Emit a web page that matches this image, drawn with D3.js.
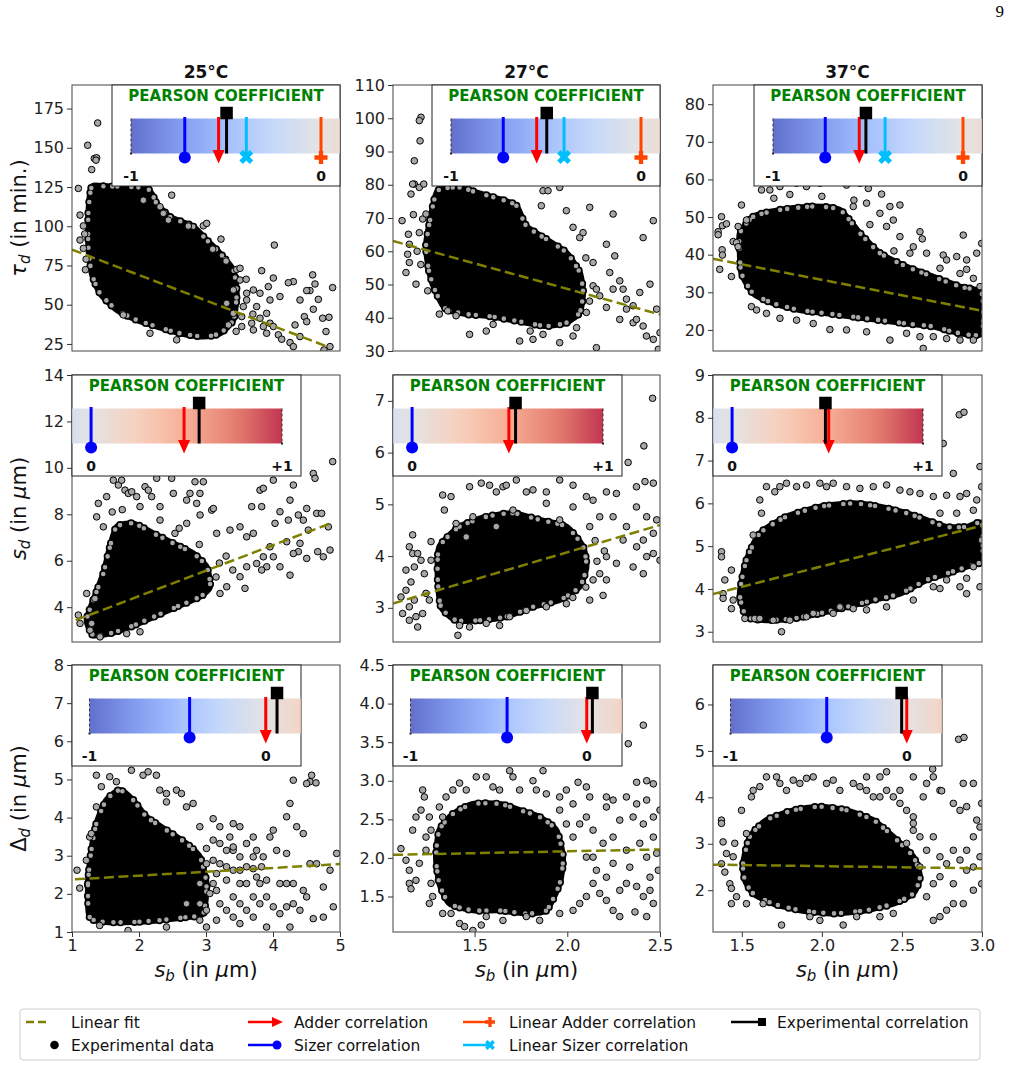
<!DOCTYPE html>
<html>
<head>
<meta charset="utf-8">
<script src="https://cdn.jsdelivr.net/npm/d3@7"></script>
<style>
body { margin: 0; background: #fff; }
text { font-family: "DejaVu Sans", sans-serif; }
</style>
</head>
<body>
<svg id="chart" width="1014" height="1067"></svg>
<script>
// ---- data ----
const temps = ['25°C', '27°C', '37°C'];

const xDomains = [[1, 5], [1.06, 2.5], [1.32, 3.0]];
const xTicks = [[1, 2, 3, 4, 5], [1.5, 2.0, 2.5], [1.5, 2.0, 2.5, 3.0]];

const yDomains = [
	[[20.5, 190], [30, 110], [14.4, 85.1]],
	[[2.5, 14], [2.34, 7.5], [2.76, 9]],
	[[1, 8], [1.04, 4.5], [1.1, 6.85]]
];
const yTicks = [
	[[25, 50, 75, 100, 125, 150, 175], [30, 40, 50, 60, 70, 80, 90, 100, 110], [20, 30, 40, 50, 60, 70, 80]],
	[[4, 6, 8, 10, 12, 14], [3, 4, 5, 6, 7], [3, 4, 5, 6, 7, 8, 9]],
	[[1, 2, 3, 4, 5, 6, 7, 8], [1.5, 2.0, 2.5, 3.0, 3.5, 4.0, 4.5], [2, 3, 4, 5, 6]]
];

// linear fits [x0, y0, x1, y1]
const fit_tau = [[1.0, 85.1, 4.83, 23], [1.06, 63.1, 2.5, 41], [1.32, 38.9, 3.0, 25.1]];
const fit_sd = [[1.055, 3.44, 4.83, 7.58], [1.06, 3.085, 2.5, 4.6], [1.32, 3.88, 3.0, 5.48]];
const fit_dd = [[1.045, 2.38, 5.0, 2.78], [1.06, 2.04, 2.5, 2.11], [1.32, 2.55, 3.0, 2.47]];

// pearson coefficients
const r_sizer = [[-0.717, -0.725, -0.725], [0, 0, 0], [-0.432, -0.452, -0.454]];
const r_adder = [[-0.539, -0.549, -0.546], [0.487, 0.507, 0.506], [0, 0, 0]];
const r_exp = [[-0.497, -0.496, -0.511], [0.566, 0.542, 0.489], [0.064, 0.032, -0.029]];
const r_lin_sizer = [-0.393, -0.405, -0.41];
const r_lin_adder = [0, 0, 0];

// dense cores (outline of the solid black mass) and scattered points
const tau25_core = [[1.294,125.1],[1.468,125.5],[2.115,124.1],[2.264,114.5],[2.463,106.0],[2.811,99.7],[3.01,91.2],[3.209,82.7],[3.408,72.1],[3.458,57.3],[3.408,40.3],[3.209,31.8],[2.96,29.7],[2.612,31.8],[2.264,36.1],[1.965,40.3],[1.667,46.7],[1.418,57.3],[1.294,70.0],[1.244,87.0],[1.244,108.2]];
const tau25_pts = [[1.383,165.8],[1.234,151.6],[1.333,143.2],[1.368,143.6],[1.294,136.1],[1.358,142.1],[1.095,124.1],[1.12,107.1],[1.12,91.2],[1.17,85.9],[2.488,119.8],[2.96,100.3],[3.01,101.8],[2.736,100.1],[3.224,91.8],[4.02,88.0],[4.005,67.0],[3.831,71.7],[3.458,72.5],[3.508,73.2],[4.304,64.7],[4.229,64.0],[4.592,69.0],[4.627,63.2],[4.89,60.9],[4.552,59.0],[4.503,59.0],[4.403,53.0],[4.104,55.2],[3.955,53.0],[4.677,53.4],[4.602,47.1],[4.468,42.4],[4.503,39.2],[4.329,37.1],[4.741,41.4],[4.836,42.0],[4.791,32.9],[4.254,25.9],[4.304,23.3],[4.851,23.3],[4.761,21.2],[4.08,30.8],[4.13,28.0],[4.403,29.7],[3.806,41.4],[3.682,38.2],[3.856,36.1],[3.955,38.2],[3.533,42.4],[3.408,44.5],[3.309,50.9],[3.707,59.4],[3.607,57.3],[3.408,59.4],[2.562,27.6],[2.164,31.8],[1.766,43.5],[2.314,112.4],[2.363,108.2],[2.065,116.6],[2.438,103.9],[3.508,65.7],[3.607,53.0],[3.756,48.8],[3.905,44.5],[3.707,33.9],[3.905,31.8],[4.005,36.1],[3.533,36.1],[3.806,57.3],[3.93,61.5],[3.557,48.8],[3.334,37.1],[1.17,100.2],[1.19,95.1],[1.21,79.0],[1.2,72.3],[3.1,85.4],[3.3,77.8],[3.6,66.2],[3.7,44.0],[3.45,33.0]];

const tau27_core = [[1.301,78.2],[1.419,79.2],[1.509,77.7],[1.635,75.7],[1.725,73.7],[1.779,67.6],[1.887,63.6],[1.995,59.6],[2.067,53.6],[2.085,47.6],[2.067,41.6],[1.995,38.5],[1.887,37.5],[1.779,38.5],[1.671,39.6],[1.563,40.6],[1.455,41.1],[1.346,42.6],[1.292,47.6],[1.256,53.6],[1.238,61.6],[1.265,70.7]];
const tau27_pts = [[1.211,100.3],[1.202,99.3],[1.206,93.2],[1.175,87.2],[1.175,80.2],[1.166,80.2],[1.202,79.2],[1.226,80.2],[1.157,77.2],[1.109,69.2],[1.143,65.1],[1.148,62.1],[1.139,59.1],[1.148,56.6],[1.184,50.1],[1.247,48.1],[1.130,53.6],[1.202,65.6],[1.220,69.7],[1.238,71.2],[1.310,41.1],[1.355,42.1],[1.4,40.6],[1.473,35.0],[1.563,36.0],[1.743,33.0],[1.815,33.5],[1.869,35.0],[1.959,32.5],[2.031,34.5],[1.869,78.2],[1.896,78.2],[1.959,79.2],[1.86,73.7],[1.995,72.2],[2.031,67.2],[2.067,64.1],[2.085,65.6],[2.121,73.2],[2.211,62.1],[2.256,58.6],[2.229,53.6],[2.301,48.6],[2.139,56.6],[2.175,46.6],[2.211,43.1],[2.247,48.6],[2.319,42.6],[2.355,38.5],[2.373,39.5],[2.409,37.5],[2.427,34.5],[2.464,33.5],[2.5,35.5],[2.391,47.6],[2.283,51.1],[2.446,50.1],[2.464,69.2],[2.247,71.2],[2.409,64.1],[2.157,31.0],[2.103,41.6],[2.139,49.6],[2.157,48.6],[2.319,45.6],[2.355,43.6],[2.283,39.5],[2.482,42.6],[2.491,30.5],[1.17,71.0],[1.19,60.0],[1.21,56.0],[2.1,58.0],[2.12,45.0],[2.05,37.0],[1.8,36.0],[1.6,38.0]];

const tau37_core = [[1.4875,45.7],[1.571,50.1],[1.738,51.9],[1.946,52.8],[2.1125,51.9],[2.2375,45.7],[2.3625,40.4],[2.529,36.8],[2.696,34.1],[2.8625,31.5],[2.998,29.7],[2.998,19.1],[2.8625,19.1],[2.696,20.9],[2.529,21.7],[2.3625,22.6],[2.196,23.5],[2.029,24.4],[1.8625,25.3],[1.696,27.1],[1.571,29.7],[1.498,35.0],[1.4875,40.4]];
const tau37_pts = [[1.373,50.1],[1.379,47.7],[1.352,46.1],[1.352,45.3],[1.377,41.3],[1.379,39.9],[1.404,48.2],[1.446,43.5],[1.467,43.2],[1.477,42.1],[1.362,36.1],[1.435,34.2],[1.498,53.2],[1.529,49.2],[1.477,47.5],[1.56,26.2],[1.592,25.3],[1.623,57.2],[1.675,57.2],[1.738,58.1],[1.842,59.0],[1.904,58.1],[1.9875,59.0],[2.071,59.4],[2.154,58.5],[2.2375,59.0],[2.29,57.6],[2.373,56.1],[2.196,52.8],[2.279,53.7],[2.3625,51.0],[2.425,52.8],[2.4875,53.2],[2.446,49.2],[2.404,47.5],[2.4875,44.8],[2.571,42.1],[2.6125,46.1],[2.627,44.2],[2.55,40.4],[2.654,40.4],[2.7375,36.4],[2.758,39.9],[2.779,38.6],[2.842,39.5],[2.8625,35.0],[2.904,38.6],[2.967,40.4],[2.998,43.0],[2.883,45.2],[2.946,33.7],[2.9875,31.5],[2.904,36.1],[2.633,15.1],[2.425,17.3],[2.529,19.1],[2.696,18.2],[2.779,17.7],[2.8625,17.3],[2.946,17.3],[2.6125,18.2],[2.05,20.1],[2.154,20.0],[2.279,19.5],[1.946,21.7],[1.842,22.6],[1.654,24.4],[1.738,23.1],[1.7,55.0],[1.8,56.0],[2.0,55.5],[2.2,54.5],[2.3,48.0],[2.45,41.0]];

const sd25_core = [[1.219,3.44],[1.318,4.30],[1.468,5.45],[1.567,6.60],[1.667,7.46],[1.915,7.61],[2.214,7.18],[2.513,6.75],[2.811,6.31],[3.01,5.74],[3.06,4.88],[2.911,4.45],[2.562,4.02],[2.214,3.58],[1.866,3.15],[1.567,2.87],[1.318,2.79]];
const sd25_pts = [[1.219,4.59],[1.343,4.37],[1.294,3.30],[1.095,3.66],[1.12,3.30],[1.393,8.47],[1.468,7.46],[1.517,8.76],[1.617,9.47],[1.692,9.26],[1.741,9.47],[1.791,9.04],[1.841,8.90],[1.891,8.97],[1.965,8.76],[2.09,9.19],[2.139,9.04],[2.264,9.55],[2.189,8.76],[2.314,8.33],[2.513,8.90],[2.488,9.55],[2.711,8.61],[2.761,8.90],[2.861,8.47],[2.910,8.90],[2.836,9.40],[2.96,9.40],[3.085,8.18],[3.11,8.25],[2.911,7.97],[2.712,7.61],[2.537,7.18],[3.159,7.18],[3.358,7.32],[3.508,7.46],[3.607,7.03],[3.707,7.18],[3.682,8.33],[3.831,8.33],[3.806,9.04],[3.856,9.12],[4.005,9.47],[4.03,7.61],[4.104,8.11],[4.229,7.75],[4.254,8.61],[4.304,9.26],[4.378,7.97],[4.453,7.75],[4.503,8.25],[4.602,9.76],[4.627,9.55],[4.652,8.04],[4.726,8.04],[4.826,7.46],[4.891,10.27],[4.851,6.46],[4.667,6.39],[4.751,6.17],[4.503,6.10],[4.378,6.39],[4.254,5.38],[4.005,6.17],[3.906,5.74],[3.856,6.17],[3.607,5.74],[3.508,5.31],[3.309,4.88],[3.209,4.59],[3.582,4.81],[3.756,5.88],[4.104,5.74],[4.304,6.31],[4.403,6.75],[4.204,6.82],[4.527,7.32],[3.831,5.60],[3.955,6.60],[1.368,7.89],[2.015,8.33],[2.314,7.75],[1.816,2.86],[2.015,2.94],[1.418,2.72],[1.269,3.01],[3.2,5.9],[3.3,6.2],[3.4,5.6],[3.15,5.3],[2.9,6.7],[2.6,7.4],[1.6,8.1],[1.75,8.2]];

const sd27_core = [[1.310,4.18],[1.419,4.57],[1.563,4.76],[1.707,4.83],[1.851,4.70],[1.995,4.57],[2.085,4.18],[2.103,3.79],[2.067,3.41],[1.959,3.15],[1.815,3.02],[1.671,2.83],[1.527,2.76],[1.400,2.76],[1.319,3.02],[1.301,3.60]];
const sd27_pts = [[1.103,3.21],[1.130,3.34],[1.148,3.02],[1.175,3.15],[1.157,3.50],[1.175,3.79],[1.130,3.73],[1.166,4.05],[1.193,4.05],[1.211,3.92],[1.166,4.41],[1.148,4.18],[1.229,3.66],[1.238,3.28],[1.256,3.15],[1.265,3.92],[1.265,4.28],[1.112,2.89],[1.148,2.76],[1.184,2.83],[1.220,2.89],[1.193,2.63],[1.328,5.18],[1.373,5.15],[1.337,4.89],[1.473,5.34],[1.536,5.41],[1.581,5.37],[1.617,5.24],[1.653,5.34],[1.671,5.37],[1.725,5.47],[1.779,5.24],[1.815,5.28],[1.887,5.24],[1.959,5.47],[2.031,5.37],[2.103,5.15],[2.139,5.08],[2.211,5.24],[2.265,5.21],[2.373,5.34],[2.419,5.44],[2.464,5.41],[2.460,7.05],[2.413,6.13],[2.328,5.81],[1.617,4.57],[1.455,4.37],[1.400,4.63],[1.491,4.76],[1.707,4.89],[1.887,5.02],[2.031,4.95],[1.959,4.70],[2.121,4.57],[2.175,4.76],[2.247,4.76],[2.319,4.57],[2.373,4.95],[2.428,4.76],[2.482,4.70],[2.464,4.44],[2.410,4.31],[2.464,4.05],[2.5,3.92],[2.428,3.99],[2.374,4.18],[2.301,4.31],[2.355,3.79],[2.410,3.66],[2.265,3.86],[2.211,3.99],[2.175,3.66],[2.139,3.54],[2.211,3.54],[2.121,3.15],[2.193,3.24],[1.419,2.66],[1.473,2.63],[1.563,2.70],[1.635,2.66],[1.689,2.83],[1.779,2.95],[1.887,3.02],[1.995,3.08],[1.410,2.47],[2.15,4.3],[2.2,4.1],[2.16,3.9],[2.1,3.4],[2.03,3.2]];

const sd37_core = [[1.4875,3.89],[1.529,4.67],[1.6125,5.30],[1.779,5.69],[1.9875,5.92],[2.196,6.00],[2.3625,5.92],[2.529,5.77],[2.654,5.61],[2.779,5.45],[2.904,5.45],[2.998,5.53],[2.998,4.67],[2.904,4.52],[2.779,4.36],[2.654,4.21],[2.4875,3.89],[2.321,3.74],[2.154,3.58],[1.9875,3.43],[1.821,3.31],[1.654,3.27],[1.529,3.35]];
const sd37_pts = [[1.373,4.87],[1.373,4.75],[1.394,4.21],[1.435,4.44],[1.383,3.89],[1.383,3.78],[1.435,3.54],[1.446,3.74],[1.519,3.31],[1.581,3.31],[1.6125,3.31],[1.748,3.00],[1.696,3.27],[1.571,5.26],[1.623,5.77],[1.6125,6.08],[1.654,6.39],[1.706,6.27],[1.7375,6.39],[1.779,6.47],[1.842,6.39],[1.904,6.43],[1.9875,6.47],[2.029,6.39],[2.071,6.47],[2.154,6.39],[2.2375,6.35],[2.321,6.39],[2.404,6.43],[2.4875,6.31],[2.55,6.27],[2.6125,6.23],[2.696,6.16],[2.779,6.19],[2.8625,6.16],[2.904,6.23],[2.967,6.08],[2.998,6.39],[2.9875,6.86],[2.858,8.07],[2.8875,8.13],[2.758,7.40],[2.654,7.13],[2.581,7.01],[2.821,6.70],[2.685,6.74],[2.7375,5.77],[2.842,5.77],[2.946,5.84],[2.998,5.14],[2.946,4.52],[2.904,4.25],[2.8625,4.05],[2.7375,4.01],[2.779,4.21],[2.904,3.89],[2.9875,4.05],[2.696,4.05],[2.571,3.74],[2.404,3.58],[2.279,3.51],[2.196,3.54],[2.071,3.43],[1.904,3.35],[1.8,3.27],[1.946,3.43],[2.1125,3.58]];

const dd25_core = [[1.264,1.39],[1.239,2.27],[1.289,3.14],[1.364,3.84],[1.513,4.46],[1.712,4.72],[1.912,4.46],[2.111,4.02],[2.41,3.67],[2.709,3.32],[2.908,2.97],[3.007,2.27],[2.958,1.48],[2.709,1.39],[2.31,1.31],[1.912,1.26],[1.513,1.26]];
const dd25_pts = [[1.075,2.62],[1.115,2.15],[1.214,2.88],[1.264,3.49],[1.289,3.58],[1.364,4.28],[1.438,4.81],[1.364,5.11],[1.563,5.07],[1.663,4.94],[1.887,5.24],[2.061,5.11],[2.136,5.20],[2.26,5.11],[2.31,4.72],[2.41,4.63],[2.41,4.41],[2.559,4.72],[2.634,4.63],[2.709,4.28],[2.808,4.37],[2.908,3.76],[3.107,3.97],[3.207,3.76],[3.406,3.84],[3.506,3.76],[3.356,3.49],[3.107,3.41],[3.007,3.19],[3.207,3.32],[3.406,3.14],[3.605,3.32],[3.705,3.49],[3.755,3.14],[3.854,2.97],[3.954,3.49],[4.004,3.67],[4.054,3.14],[4.203,3.06],[4.103,2.27],[4.203,2.27],[4.303,2.27],[4.303,4.98],[4.577,5.11],[4.552,4.94],[4.641,4.91],[4.502,4.89],[4.253,4.37],[4.203,4.02],[4.353,3.76],[4.452,3.58],[4.552,2.79],[4.651,2.79],[4.751,2.18],[4.851,2.62],[4.95,3.06],[4.9,1.66],[4.751,1.39],[4.601,1.35],[4.402,1.57],[4.502,1.92],[4.303,1.74],[4.203,1.66],[4.103,1.48],[4.004,1.66],[3.904,1.13],[4.253,1.13],[4.452,2.09],[3.755,2.44],[3.506,2.27],[3.306,2.36],[3.157,2.53],[3.057,2.01],[2.908,1.31],[3.007,1.13],[3.506,1.22],[3.605,1.57],[3.804,2.27],[3.705,1.92],[3.904,2.36],[3.829,2.71],[3.705,2.66],[3.605,2.71],[3.406,2.62],[3.306,2.71],[3.207,2.79],[2.41,1.13],[3.406,3.23],[3.157,2.09],[1.837,1.04],[1.413,1.17],[3.107,2.88],[2.908,2.27],[2.709,1.74],[3.007,2.79],[3.107,2.27],[3.207,1.74],[3.306,1.57],[3.406,1.39],[3.007,1.57],[3.157,1.31],[2.908,1.74],[3.506,1.74],[3.406,1.92],[3.605,2.27],[3.705,2.97],[3.506,2.97],[3.306,3.14],[3.506,2.62],[3.705,1.39],[3.804,1.74],[3.904,1.92]];

const dd27_core = [[1.310,2.36],[1.383,2.57],[1.491,2.70],[1.635,2.70],[1.743,2.62],[1.851,2.53],[1.941,2.36],[1.977,2.01],[1.959,1.67],[1.887,1.32],[1.779,1.28],[1.635,1.32],[1.491,1.32],[1.364,1.41],[1.310,1.67],[1.292,2.01]];
const dd27_pts = [[1.103,2.12],[1.130,1.97],[1.148,1.84],[1.148,1.67],[1.157,1.60],[1.184,1.71],[1.202,1.93],[1.238,2.10],[1.238,2.27],[1.166,2.36],[1.184,2.53],[1.211,2.62],[1.229,2.79],[1.220,2.88],[1.256,2.53],[1.265,2.36],[1.265,1.67],[1.274,1.50],[1.256,1.41],[1.328,1.28],[1.373,1.28],[1.419,1.15],[1.446,1.11],[1.491,1.06],[1.536,1.13],[1.563,1.24],[1.653,1.19],[1.779,1.24],[1.851,1.19],[1.959,1.28],[2.031,1.32],[2.067,1.41],[2.103,1.50],[2.139,1.67],[2.175,1.54],[2.211,1.45],[2.247,1.32],[2.283,1.58],[2.319,1.67],[2.374,1.63],[2.410,1.50],[2.446,1.58],[2.464,1.41],[2.428,1.24],[2.365,1.30],[2.283,1.24],[2.211,1.75],[2.157,1.84],[2.103,2.01],[2.031,2.27],[2.067,2.44],[2.103,2.53],[2.139,2.36],[2.193,2.19],[2.247,2.27],[2.319,2.10],[2.391,2.19],[2.428,2.01],[2.464,2.27],[2.482,2.06],[2.491,1.84],[2.446,1.75],[2.337,1.88],[2.247,1.93],[2.139,2.01],[1.995,2.44],[1.959,2.62],[2.031,2.70],[1.887,2.83],[1.833,2.88],[1.815,3.00],[1.743,2.88],[1.707,3.05],[1.635,2.88],[1.599,2.92],[1.563,3.05],[1.509,3.05],[1.455,2.88],[1.419,2.97],[1.383,2.88],[1.346,2.79],[1.328,2.53],[1.310,2.66],[1.959,2.79],[1.995,2.88],[2.058,2.98],[2.103,2.92],[2.121,2.79],[2.211,2.79],[2.247,2.75],[2.319,2.79],[2.374,2.98],[2.428,3.00],[2.464,2.96],[2.410,3.72],[2.329,3.48],[2.211,2.66],[2.283,2.49],[2.355,2.53],[2.410,2.44],[2.464,2.53],[2.5,2.62],[2.374,2.70],[2.428,2.75],[1.689,3.13],[1.869,3.13]];

const dd37_core = [[1.508,2.57],[1.55,3.15],[1.654,3.51],[1.821,3.72],[1.9875,3.80],[2.154,3.72],[2.321,3.51],[2.446,3.15],[2.571,2.72],[2.6125,2.29],[2.571,1.93],[2.446,1.71],[2.279,1.57],[2.071,1.50],[1.8625,1.57],[1.696,1.71],[1.571,1.93],[1.519,2.22]];
const dd37_pts = [[1.373,3.51],[1.373,3.44],[1.383,3.04],[1.404,2.79],[1.373,2.57],[1.394,2.39],[1.425,2.14],[1.435,2.04],[1.446,2.72],[1.456,3.01],[1.498,3.72],[1.529,3.22],[1.56,4.01],[1.571,4.15],[1.6125,4.23],[1.654,4.44],[1.717,4.44],[1.7375,4.30],[1.779,4.15],[1.821,4.37],[1.8625,4.30],[1.904,4.41],[1.946,4.44],[2.029,4.30],[2.071,4.37],[2.1125,4.15],[2.196,4.30],[2.2375,4.23],[2.279,4.15],[2.321,4.01],[2.3625,4.01],[2.404,4.15],[2.446,4.01],[2.4875,3.87],[2.529,3.72],[2.571,3.58],[2.633,4.01],[2.696,4.44],[2.7375,4.15],[2.821,3.87],[2.8625,3.72],[2.904,3.80],[2.967,3.51],[2.998,3.87],[2.9875,3.36],[2.946,3.15],[2.904,2.86],[2.8625,2.65],[2.904,2.43],[2.946,2.50],[2.9875,2.72],[2.998,2.14],[2.946,2.00],[2.883,1.71],[2.821,1.71],[2.779,1.57],[2.7375,1.43],[2.696,1.35],[2.654,1.86],[2.696,2.14],[2.7375,2.29],[2.779,2.57],[2.821,2.86],[2.696,3.15],[2.654,2.86],[2.6125,3.15],[2.571,3.29],[2.529,3.01],[2.6125,2.50],[2.7375,2.72],[2.821,2.14],[2.571,3.44],[2.4875,4.15],[2.3625,4.44],[2.279,4.44],[2.404,4.55],[2.571,4.44],[2.654,4.30],[2.883,4.30],[2.946,4.30],[2.854,5.25],[2.8875,5.29],[2.692,4.61],[2.748,4.14],[1.748,1.25],[1.925,1.43],[1.9875,1.35],[2.133,1.25],[2.217,1.43],[2.3625,1.43],[2.446,1.50],[1.633,1.71],[1.529,1.71],[1.467,1.86],[1.435,1.71]];

const cores = [[tau25_core, tau27_core, tau37_core], [sd25_core, sd27_core, sd37_core], [dd25_core, dd27_core, dd37_core]];
const scatter = [[tau25_pts, tau27_pts, tau37_pts], [sd25_pts, sd27_pts, sd37_pts], [dd25_pts, dd27_pts, dd37_pts]];
const fits = [fit_tau, fit_sd, fit_dd];

// ---- layout ----
const W = 1014, H = 1067;
const colX = [[72, 340], [393, 660], [713, 982]];
const rowY = [[85, 351], [375, 642], [665, 932]];

// inset geometry per row
const insetCfg = [
	{ right: true, w: 228, dom: [-1, 0.1], px: [19, 228], ticks: [[-1, '-1'], [0, '0']], end: -1 },
	{ right: false, w: 229, dom: [-0.1, 1], px: [0, 210], ticks: [[0, '0'], [1, '+1']], end: 1 },
	{ right: false, w: 229, dom: [-1, 0.2], px: [17.5, 229], ticks: [[-1, '-1'], [0, '0']], end: -1 }
];
const insetH = 101, barTop = 33.5, barBot = 68.5;

const cw = d3.scaleLinear()
	.domain(d3.range(9).map(i => i / 8))
	.range(['#3b4cc0', '#6282ea', '#8db0fe', '#b8d0f9', '#dddcdc', '#f5c4ac', '#f49a7b', '#de604d', '#b40426']);

const C_SIZER = '#0000ff', C_ADDER = '#ff0000', C_LSIZER = '#00bfff', C_LADDER = '#ff4500', C_EXP = '#000000';
const C_FIT = '#808000';
const PT_FILL = '#a8a8a8';

const svg = d3.select('#chart');
svg.append('rect').attr('width', W).attr('height', H).attr('fill', '#fff');
const defs = svg.append('defs');

// page number
svg.append('text').attr('x', 1004).attr('y', 17).attr('text-anchor', 'end')
	.style('font-family', '"Liberation Serif", serif').attr('font-size', 17).text('9');

function fmt(c, r, v, isX) {
	if (isX) return c == 0 ? d3.format('d')(v) : d3.format('.1f')(v);
	if (r == 2 && c == 1) return d3.format('.1f')(v);
	return d3.format('d')(v);
}

// marker helpers (inset local coords)
function vline(g, x, y0, y1, color) {
	g.append('line').attr('x1', x).attr('x2', x).attr('y1', y0).attr('y2', y1)
		.attr('stroke', color).attr('stroke-width', 3);
}
function arrowHead(g, x, yb, tip, hw, color) {
	g.append('path').attr('d', `M${x - hw},${yb}L${x + hw},${yb}L${x},${tip}Z`).attr('fill', color);
}
function plusMark(g, x, y, size, color, rot) {
	g.append('path').attr('d', d3.symbol(d3.symbolCross, size)())
		.attr('transform', `translate(${x},${y}) rotate(${rot})`).attr('fill', color);
}
function squareMark(g, x, y, s, color) {
	g.append('rect').attr('x', x - s / 2).attr('y', y - s / 2).attr('width', s).attr('height', s).attr('fill', color);
}

for (let r = 0; r < 3; r++) {
	for (let c = 0; c < 3; c++) {
		const x = d3.scaleLinear().domain(xDomains[c]).range(colX[c]);
		const y = d3.scaleLinear().domain(yDomains[r][c]).range([rowY[r][1], rowY[r][0]]);
		const pw = colX[c][1] - colX[c][0], ph = rowY[r][1] - rowY[r][0];
		const clipId = 'clip_' + r + '_' + c;
		defs.append('clipPath').attr('id', clipId).append('rect')
			.attr('x', colX[c][0]).attr('y', rowY[r][0]).attr('width', pw).attr('height', ph);

		const g = svg.append('g');
		const dg = g.append('g').attr('clip-path', 'url(#' + clipId + ')');

		// dense core: solid mass, its rim as an uneven string of marker dots
		const outline = d3.line().x(d => x(d[0])).y(d => y(d[1])).curve(d3.curveCardinalClosed.tension(0.4))(cores[r][c]);
		dg.append('path').attr('d', outline)
			.attr('fill', '#000').attr('stroke', '#000').attr('stroke-width', 6).attr('stroke-linejoin', 'round');
		dg.append('path').attr('d', outline).attr('fill', 'none')
			.attr('stroke', '#000').attr('stroke-width', 8).attr('stroke-linecap', 'round')
			.attr('stroke-dasharray', '0,9,0,5,0,14,0,7,0,11');
		dg.append('path').attr('d', outline).attr('fill', 'none')
			.attr('stroke', PT_FILL).attr('stroke-width', 4.6).attr('stroke-linecap', 'round')
			.attr('stroke-dasharray', '0,9,0,5,0,14,0,7,0,11');

		// scattered points
		dg.selectAll('circle.pt').data(scatter[r][c]).join('circle')
			.attr('class', 'pt')
			.attr('cx', d => x(d[0])).attr('cy', d => y(d[1])).attr('r', 3.3)
			.attr('fill', PT_FILL).attr('stroke', '#000').attr('stroke-width', 1);

		// linear fit
		const f = fits[r][c];
		dg.append('line')
			.attr('x1', x(f[0])).attr('y1', y(f[1])).attr('x2', x(f[2])).attr('y2', y(f[3]))
			.attr('stroke', C_FIT).attr('stroke-width', 2.5).attr('stroke-dasharray', '10,4.5');

		// frame
		g.append('rect').attr('x', colX[c][0]).attr('y', rowY[r][0]).attr('width', pw).attr('height', ph)
			.attr('fill', 'none').attr('stroke', '#555').attr('stroke-width', 1.1);

		// y axis
		const ya = g.append('g').attr('transform', `translate(${colX[c][0]},0)`)
			.call(d3.axisLeft(y).tickValues(yTicks[r][c]).tickSize(5).tickPadding(3).tickFormat(v => fmt(c, r, v, false)));
		ya.select('.domain').remove();
		ya.selectAll('line').attr('stroke', '#333');
		ya.selectAll('text').attr('font-size', 16).attr('fill', '#222').style('font-family', '"DejaVu Sans", sans-serif');

		if (r == 2) {
			const xa = g.append('g').attr('transform', `translate(0,${rowY[r][1]})`)
				.call(d3.axisBottom(x).tickValues(xTicks[c]).tickSize(5).tickPadding(3).tickFormat(v => fmt(c, r, v, true)));
			xa.select('.domain').remove();
			xa.selectAll('line').attr('stroke', '#333');
			xa.selectAll('text').attr('font-size', 16).attr('fill', '#222').style('font-family', '"DejaVu Sans", sans-serif');
		}

		// ---- inset with pearson coefficients ----
		const ic = insetCfg[r];
		const ix = ic.right ? colX[c][1] - ic.w : colX[c][0];
		const iy = rowY[r][0];
		const ig = g.append('g').attr('transform', `translate(${ix},${iy})`);
		ig.append('rect').attr('width', ic.w).attr('height', insetH)
			.attr('fill', '#fff').attr('stroke', '#222').attr('stroke-width', 1);
		ig.append('text').attr('x', ic.w / 2).attr('y', 15.7).attr('text-anchor', 'middle')
			.attr('font-size', 15).attr('font-weight', 'bold').attr('fill', '#008000')
			.text('PEARSON COEFFICIENT');

		const bx = d3.scaleLinear().domain(ic.dom).range(ic.px);
		const gid = 'grad_' + r + '_' + c;
		const grad = defs.append('linearGradient').attr('id', gid).attr('gradientUnits', 'userSpaceOnUse')
			.attr('x1', ix + ic.px[0]).attr('x2', ix + ic.px[1]).attr('y1', 0).attr('y2', 0);
		d3.range(21).forEach(i => {
			const v = ic.dom[0] + (ic.dom[1] - ic.dom[0]) * i / 20;
			grad.append('stop').attr('offset', i / 20).attr('stop-color', cw((v + 1) / 2)).attr('stop-opacity', 0.8);
		});
		// gradient uses page coords, so draw the bar in a non-translated group
		g.append('rect').attr('x', ix + ic.px[0]).attr('y', iy + barTop)
			.attr('width', ic.px[1] - ic.px[0]).attr('height', barBot - barTop).attr('fill', 'url(#' + gid + ')');

		const mg = g.append('g').attr('transform', `translate(${ix},${iy})`);
		mg.append('line').attr('x1', bx(ic.end)).attr('x2', bx(ic.end)).attr('y1', barTop).attr('y2', barBot)
			.attr('stroke', '#333').attr('stroke-width', 1).attr('stroke-dasharray', '3,2');
		mg.append('rect').attr('x', bx(ic.end) - 1).attr('y', barBot - 1).attr('width', 2).attr('height', 2).attr('fill', '#222');

		ic.ticks.forEach(t => {
			mg.append('text').attr('x', bx(t[0])).attr('y', 96).attr('text-anchor', 'middle')
				.attr('font-size', 14).attr('font-weight', 'bold').attr('fill', '#111').text(t[1]);
		});

		// sizer
		const sx = bx(r_sizer[r][c]);
		vline(mg, sx, barTop - 1.5, barBot + 4, C_SIZER);
		mg.append('circle').attr('cx', sx).attr('cy', barBot + 4).attr('r', 6).attr('fill', C_SIZER);

		if (r == 0) {
			const lsx = bx(r_lin_sizer[c]);
			vline(mg, lsx, barTop - 1.5, barBot + 3, C_LSIZER);
			plusMark(mg, lsx, barBot + 3.5, 120, C_LSIZER, 45);
			const lax = bx(r_lin_adder[c]);
			vline(mg, lax, barTop - 1.5, barBot + 3, C_LADDER);
			plusMark(mg, lax, barBot + 4, 95, C_LADDER, 0);
		}

		// adder
		const ax = bx(r_adder[r][c]);
		vline(mg, ax, barTop - 1.5, barBot - 3, C_ADDER);
		arrowHead(mg, ax, barBot - 3.5, barBot + 10, 6, C_ADDER);

		// experimental
		const ex = bx(r_exp[r][c]);
		vline(mg, ex, barTop - 5, barBot, C_EXP);
		squareMark(mg, ex, barTop - 5.5, 12.5, C_EXP);
	}
}

// column titles
temps.forEach((t, c) => {
	svg.append('text').attr('x', (colX[c][0] + colX[c][1]) / 2).attr('y', 78).attr('text-anchor', 'middle')
		.attr('font-size', 17).attr('font-weight', 'bold').attr('fill', '#111').text(t);
});

// y labels: [symbol, italic, subscript, unit]
const yLabels = [['τ', true, 'd', ' (in min.)'], ['s', true, 'd', ' (in '], ['Δ', false, 'd', ' (in ']];
yLabels.forEach((lab, r) => {
	const cy = (rowY[r][0] + rowY[r][1]) / 2;
	const t = svg.append('text').attr('transform', `translate(26,${cy}) rotate(-90)`)
		.attr('text-anchor', 'middle').attr('font-size', 21).attr('fill', '#111');
	t.append('tspan').attr('font-style', lab[1] ? 'italic' : 'normal').text(lab[0]);
	t.append('tspan').attr('font-size', 15).attr('font-style', 'italic').attr('dy', 4).text(lab[2]);
	t.append('tspan').attr('dy', -4).text(lab[3]);
	if (r > 0) {
		t.append('tspan').attr('font-style', 'italic').text('μ');
		t.append('tspan').text('m)');
	}
});

// x labels
colX.forEach((cx) => {
	const t = svg.append('text').attr('x', (cx[0] + cx[1]) / 2).attr('y', 977)
		.attr('text-anchor', 'middle').attr('font-size', 21).attr('fill', '#111');
	t.append('tspan').attr('font-style', 'italic').text('s');
	t.append('tspan').attr('font-size', 15).attr('font-style', 'italic').attr('dy', 4).text('b');
	t.append('tspan').attr('dy', -4).text(' (in ');
	t.append('tspan').attr('font-style', 'italic').text('μ');
	t.append('tspan').text('m)');
});

// ---- legend ----
const legendItems = [
	{ key: 'fit', label: 'Linear fit', x: 26, row: 0 },
	{ key: 'data', label: 'Experimental data', x: 26, row: 1 },
	{ key: 'adder', label: 'Adder correlation', x: 248, row: 0 },
	{ key: 'sizer', label: 'Sizer correlation', x: 248, row: 1 },
	{ key: 'ladder', label: 'Linear Adder correlation', x: 463, row: 0 },
	{ key: 'lsizer', label: 'Linear Sizer correlation', x: 463, row: 1 },
	{ key: 'exp', label: 'Experimental correlation', x: 731, row: 0 }
];
const lg = svg.append('g');
lg.append('rect').attr('x', 20).attr('y', 1009).attr('width', 960).attr('height', 51).attr('rx', 3)
	.attr('fill', '#fff').attr('stroke', '#d0d0d0').attr('stroke-width', 1);
legendItems.forEach(it => {
	const yy = it.row == 0 ? 1022 : 1045;
	const x0 = it.x, x1 = it.x + 35;
	const g = lg.append('g');
	if (it.key == 'fit') {
		g.append('line').attr('x1', x0).attr('x2', x0 + 21).attr('y1', yy).attr('y2', yy)
			.attr('stroke', C_FIT).attr('stroke-width', 2.5).attr('stroke-dasharray', '8,4');
	} else if (it.key == 'data') {
		g.append('circle').attr('cx', 54.5).attr('cy', yy).attr('r', 4.3).attr('fill', '#000');
	} else if (it.key == 'adder') {
		g.append('line').attr('x1', x0).attr('x2', x1 - 10).attr('y1', yy).attr('y2', yy).attr('stroke', C_ADDER).attr('stroke-width', 2.5);
		g.append('path').attr('d', `M${x1 - 11},${yy - 5}L${x1},${yy}L${x1 - 11},${yy + 5}Z`).attr('fill', C_ADDER);
	} else if (it.key == 'sizer') {
		g.append('line').attr('x1', x0).attr('x2', x1 - 6).attr('y1', yy).attr('y2', yy).attr('stroke', C_SIZER).attr('stroke-width', 2.5);
		g.append('circle').attr('cx', x1 - 6).attr('cy', yy).attr('r', 4.5).attr('fill', C_SIZER);
	} else if (it.key == 'ladder') {
		g.append('line').attr('x1', x0).attr('x2', x1 - 8).attr('y1', yy).attr('y2', yy).attr('stroke', C_LADDER).attr('stroke-width', 2.5);
		plusMark(g, x1 - 8, yy, 55, C_LADDER, 0);
	} else if (it.key == 'lsizer') {
		g.append('line').attr('x1', x0).attr('x2', x1 - 8).attr('y1', yy).attr('y2', yy).attr('stroke', C_LSIZER).attr('stroke-width', 2.5);
		plusMark(g, x1 - 8, yy, 60, C_LSIZER, 45);
	} else if (it.key == 'exp') {
		g.append('line').attr('x1', x0).attr('x2', x1 - 4).attr('y1', yy).attr('y2', yy).attr('stroke', C_EXP).attr('stroke-width', 2.5);
		squareMark(g, x1 - 4, yy, 8, C_EXP);
	}
	const tx = it.key == 'fit' || it.key == 'data' ? 71 : x1 + 11;
	g.append('text').attr('x', tx).attr('y', yy + 5.5).attr('font-size', 15.5).attr('fill', '#111').text(it.label);
});
</script>
</body>
</html>
